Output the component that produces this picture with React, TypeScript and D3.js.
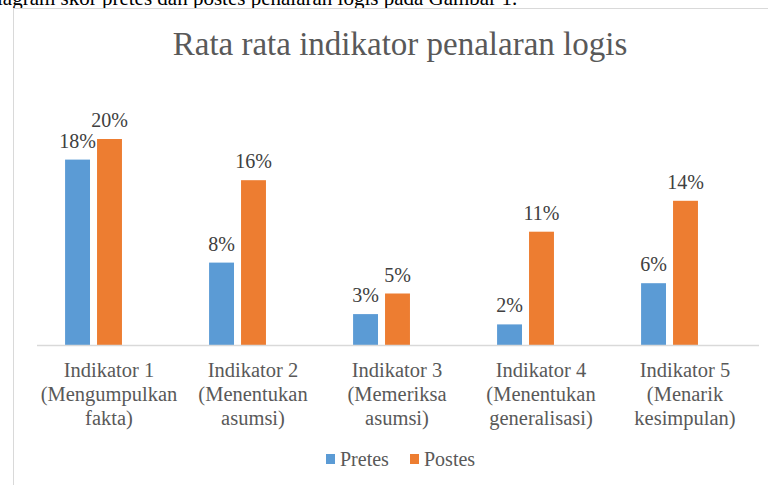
import React from "react";
import * as d3 from "d3";

const categories = [
  ["Indikator 1", "(Mengumpulkan", "fakta)"],
  ["Indikator 2", "(Menentukan", "asumsi)"],
  ["Indikator 3", "(Memeriksa", "asumsi)"],
  ["Indikator 4", "(Menentukan", "generalisasi)"],
  ["Indikator 5", "(Menarik", "kesimpulan)"],
];
const seriesNames = ["Pretes", "Postes"];
const pretes = [18, 8, 3, 2, 6];
const postes = [20, 16, 5, 11, 14];
const colors = ["#5b9bd5", "#ed7d31"];
const title = "Rata rata indikator penalaran logis";
const caption = "diagram skor pretes dan postes penalaran logis pada Gambar 1.";

const W = 768;
const H = 485;
const FONT = "'Liberation Serif', 'Times New Roman', serif";

export default function App() {
  const keys = categories.map((c) => c[0]);
  const x = d3.scaleBand<string>().domain(keys).range([37, 757]);
  const bw = x.bandwidth();
  const inner = d3
    .scaleBand<string>()
    .domain(seriesNames)
    .range([bw * 0.195, bw * 0.59])
    .paddingInner(0.22);
  const y = d3.scaleLinear().domain([0, 20]).range([345, 139]);
  const data = [pretes, postes];

  return (
    <svg
      width={W}
      height={H}
      style={{ position: "absolute", left: 0, top: 0, background: "#fff" }}
    >
      <text x={-13.5} y={5} fontFamily={FONT} fontSize={21} fill="#000">
        {caption}
      </text>
      <rect x={13.5} y={8.5} width={800} height={500} fill="#fff" stroke="#d9d9d9" strokeWidth={1} />
      <text x={400} y={55} textAnchor="middle" fontFamily={FONT} fontSize={33} fill="#595959">
        {title}
      </text>
      {seriesNames.map((s, si) =>
        keys.map((k, i) => {
          const v = data[si][i];
          const bx = (x(k) as number) + (inner(s) as number);
          return (
            <g key={s + k}>
              <rect
                x={bx}
                y={y(v)}
                width={inner.bandwidth()}
                height={y(0) - y(v)}
                fill={colors[si]}
              />
              <text
                x={bx + inner.bandwidth() / 2}
                y={y(v) - 12}
                textAnchor="middle"
                fontFamily={FONT}
                fontSize={20}
                fill="#404040"
              >
                {v + "%"}
              </text>
            </g>
          );
        })
      )}
      <line x1={37} x2={759} y1={y(0) + 0.5} y2={y(0) + 0.5} stroke="#d9d9d9" strokeWidth={1.5} />
      {categories.map((lines, i) => (
        <text
          key={i}
          textAnchor="middle"
          fontFamily={FONT}
          fontSize={20.5}
          fill="#595959"
        >
          {lines.map((l, j) => (
            <tspan key={j} x={(x(lines[0]) as number) + bw / 2} y={377 + j * 24}>
              {l}
            </tspan>
          ))}
        </text>
      ))}
      {seriesNames.map((s, si) => {
        const lx = [326, 410][si];
        return (
          <g key={s}>
            <rect x={lx} y={454} width={9} height={10} fill={colors[si]} />
            <text x={lx + 14} y={465.5} fontFamily={FONT} fontSize={20} fill="#595959">
              {s}
            </text>
          </g>
        );
      })}
    </svg>
  );
}
